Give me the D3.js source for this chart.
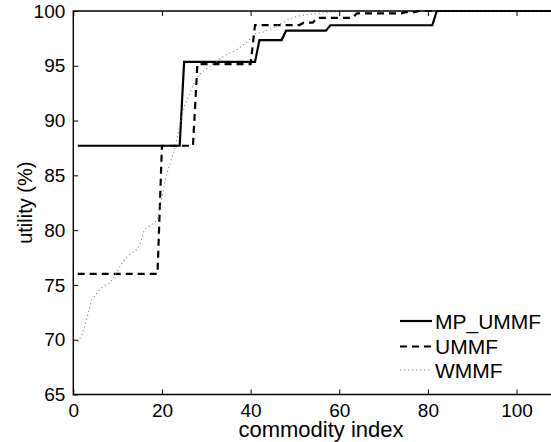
<!DOCTYPE html>
<html>
<head>
<meta charset="utf-8">
<script src="https://cdn.jsdelivr.net/npm/d3@7"></script>
<style>
  body { margin: 0; background: #fff; }
  text { font-family: "Liberation Sans", Arial, Helvetica, sans-serif; fill: #000; }
</style>
</head>
<body>
<div id="my_dataviz"></div>
<script>
// data (commodity index -> utility %)
const xTicks = [0, 20, 40, 60, 80, 100];
const yTicks = [65, 70, 75, 80, 85, 90, 95, 100];

const mpIdx = [1, 24, 25, 41, 42, 47, 48, 57, 58, 81, 82, 108];
const mpVal = [87.7, 87.7, 95.35, 95.35, 97.35, 97.35, 98.2, 98.2, 98.7, 98.7, 100, 100];

const ummfIdx = [1, 19, 20, 27, 28, 40, 41, 51, 52, 54, 55, 63, 64, 74, 75, 77, 78, 108];
const ummfVal = [76, 76, 87.7, 87.7, 95.15, 95.15, 98.72, 98.72, 98.93, 98.93, 99.38, 99.38, 99.79, 99.79, 99.9, 99.9, 100, 100];

const wmmfIdx = [1, 2, 3, 4, 5, 6, 7, 8, 9, 10, 11, 12, 13, 14, 15, 16, 17, 18, 19, 20,
  21, 22, 23, 24, 25, 26, 27, 28, 29, 30, 31, 32, 33, 34, 35, 36, 37, 38, 39, 40,
  41, 42, 43, 44, 45, 46, 47, 48, 49, 50, 51, 52, 53, 54, 55, 56, 57, 58, 59, 60, 61, 62, 108];
const wmmfVal = [69.8, 70.5, 71.8, 73.5, 74.1, 74.6, 74.9, 75.1, 75.6, 76.3, 77.0, 77.5, 77.9, 78.1, 78.6, 80.0, 80.3, 80.6, 81.0, 83.0,
  85.0, 86.3, 87.6, 89.5, 91.3, 92.2, 93.2, 94.0, 94.4, 94.7, 95.0, 95.3, 95.6, 95.9, 96.1, 96.3, 96.5, 96.8, 97.1, 97.5,
  97.9, 98.0, 98.1, 98.3, 98.4, 98.7, 98.9, 99.1, 99.3, 99.45, 99.55, 99.62, 99.68, 99.73, 99.77, 99.81, 99.85, 99.88, 99.92, 99.95, 99.98, 100, 100];

const seriesNames = ["MP_UMMF", "UMMF", "WMMF"];

// set the dimensions and margins of the graph
const W = 551, H = 442;
const margin = {top: 11, left: 73.3, bottom: 47.5};
const plotRight = 552;

const svg = d3.select("#my_dataviz")
  .append("svg")
    .attr("width", W)
    .attr("height", H);

const x = d3.scaleLinear().domain([0, 108]).range([margin.left, plotRight]);
const y = d3.scaleLinear().domain([65, 100]).range([H - margin.bottom, margin.top]);

const styles = [
  {stroke: "#000", width: 2.2, dash: null},
  {stroke: "#000", width: 2.2, dash: "7,5"},
  {stroke: "#888", width: 1.1, dash: "1.2,2.8"}
];

const series = [
  mpIdx.map((d, i) => [d, mpVal[i]]),
  ummfIdx.map((d, i) => [d, ummfVal[i]]),
  wmmfIdx.map((d, i) => [d, wmmfVal[i]])
];

const line = d3.line().x(d => x(d[0])).y(d => y(d[1]));

svg.append("defs").append("clipPath").attr("id", "clip")
  .append("rect")
    .attr("x", margin.left).attr("y", margin.top - 2)
    .attr("width", plotRight - margin.left).attr("height", y(65) - margin.top + 2);

series.forEach((s, i) => {
  svg.append("path")
    .datum(s)
    .attr("clip-path", "url(#clip)")
    .attr("fill", "none")
    .attr("stroke", styles[i].stroke)
    .attr("stroke-width", styles[i].width)
    .attr("stroke-dasharray", styles[i].dash)
    .attr("stroke-linejoin", "miter")
    .attr("d", line);
});

// axes box, ticks inside
svg.append("path")
  .attr("fill", "none")
  .attr("stroke", "#000")
  .attr("stroke-width", 1.4)
  .attr("d", `M${plotRight},${y(100)}H${margin.left}V${y(65)}H${plotRight}`);

// X axis
svg.append("g")
  .attr("transform", `translate(0, ${y(65)})`)
  .call(d3.axisBottom(x).tickValues(xTicks).tickSize(-5).tickPadding(9).tickFormat(d3.format("d")))
  .call(g => g.select(".domain").remove())
  .call(g => g.selectAll("line").attr("stroke-width", 1))
  .call(g => g.selectAll("text").attr("font-size", "19px").attr("font-family", null));

svg.append("g")
  .attr("transform", `translate(0, ${y(100)})`)
  .call(d3.axisTop(x).tickValues(xTicks).tickSize(-5).tickFormat(""))
  .call(g => g.select(".domain").remove())
  .call(g => g.selectAll("line").attr("stroke-width", 1));

// Y axis
svg.append("g")
  .attr("transform", `translate(${margin.left}, 0)`)
  .call(d3.axisLeft(y).tickValues(yTicks).tickSize(-5).tickPadding(8).tickFormat(d3.format("d")))
  .call(g => g.select(".domain").remove())
  .call(g => g.selectAll("line").attr("stroke-width", 1))
  .call(g => g.selectAll("text").attr("font-size", "19px").attr("font-family", null));

// labels
svg.append("text")
  .attr("x", 321)
  .attr("y", 437)
  .attr("text-anchor", "middle")
  .attr("font-size", "22px")
  .text("commodity index");

svg.append("text")
  .attr("transform", `translate(32, ${(y(65) + y(100)) / 2}) rotate(-90)`)
  .attr("text-anchor", "middle")
  .attr("font-size", "20px")
  .text("utility (%)");

// legend
const legendRows = [321, 346.5, 370];
seriesNames.forEach((name, i) => {
  svg.append("line")
    .attr("x1", 400).attr("x2", 432)
    .attr("y1", legendRows[i]).attr("y2", legendRows[i])
    .attr("stroke", styles[i].stroke)
    .attr("stroke-width", styles[i].width)
    .attr("stroke-dasharray", styles[i].dash);
  svg.append("text")
    .attr("x", 435)
    .attr("y", legendRows[i])
    .attr("dy", "0.36em")
    .attr("font-size", "21px")
    .text(name);
});
</script>
</body>
</html>
